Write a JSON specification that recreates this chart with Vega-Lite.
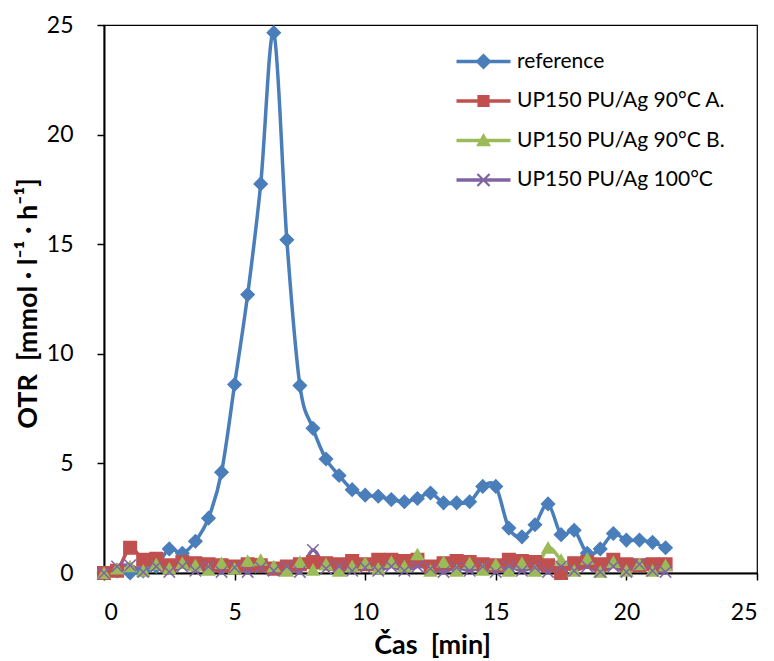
{
  "$schema": "https://vega.github.io/schema/vega-lite/v6.json",
  "autosize": "none",
  "width": 653,
  "height": 548,
  "padding": {"left": 104, "top": 25, "right": 17, "bottom": 88},
  "background": "white",
  "config": {
    "font": "Lato",
    "view": {"stroke": "#000", "strokeWidth": 1.2},
    "axis": {
      "grid": false,
      "domainColor": "#000",
      "domainWidth": 2,
      "tickColor": "#000",
      "tickWidth": 1.5,
      "tickSize": 7,
      "labelFont": "Lato",
      "labelFontSize": 23,
      "labelColor": "#000",
      "titleFont": "Lato",
      "titleFontSize": 27,
      "titleFontWeight": "bold",
      "titleColor": "#000"
    },
    "legend": {
      "orient": "none",
      "legendX": 366,
      "legendY": 23,
      "padding": 0,
      "rowPadding": 15.5,
      "symbolSize": 729,
      "symbolStrokeWidth": 0,
      "labelOffset": 20,
      "labelFont": "Lato",
      "labelFontSize": 21,
      "labelColor": "#000",
      "labelLimit": 400
    }
  },
  "data": {
    "values": [
      {"t": 0, "s": "reference", "v": 0},
      {"t": 0.5, "s": "reference", "v": 0.1},
      {"t": 1, "s": "reference", "v": 0},
      {"t": 1.5, "s": "reference", "v": 0.1},
      {"t": 2, "s": "reference", "v": 0.3},
      {"t": 2.5, "s": "reference", "v": 1.1},
      {"t": 3, "s": "reference", "v": 0.9},
      {"t": 3.5, "s": "reference", "v": 1.45},
      {"t": 4, "s": "reference", "v": 2.5},
      {"t": 4.5, "s": "reference", "v": 4.6},
      {"t": 5, "s": "reference", "v": 8.6},
      {"t": 5.5, "s": "reference", "v": 12.7},
      {"t": 6, "s": "reference", "v": 17.75},
      {"t": 6.5, "s": "reference", "v": 24.65},
      {"t": 7, "s": "reference", "v": 15.2},
      {"t": 7.5, "s": "reference", "v": 8.55},
      {"t": 8, "s": "reference", "v": 6.6},
      {"t": 8.5, "s": "reference", "v": 5.2},
      {"t": 9, "s": "reference", "v": 4.45},
      {"t": 9.5, "s": "reference", "v": 3.8},
      {"t": 10, "s": "reference", "v": 3.55},
      {"t": 10.5, "s": "reference", "v": 3.5},
      {"t": 11, "s": "reference", "v": 3.35},
      {"t": 11.5, "s": "reference", "v": 3.25},
      {"t": 12, "s": "reference", "v": 3.4},
      {"t": 12.5, "s": "reference", "v": 3.65},
      {"t": 13, "s": "reference", "v": 3.2},
      {"t": 13.5, "s": "reference", "v": 3.2},
      {"t": 14, "s": "reference", "v": 3.25},
      {"t": 14.5, "s": "reference", "v": 3.95},
      {"t": 15, "s": "reference", "v": 3.95},
      {"t": 15.5, "s": "reference", "v": 2.05},
      {"t": 16, "s": "reference", "v": 1.65},
      {"t": 16.5, "s": "reference", "v": 2.2},
      {"t": 17, "s": "reference", "v": 3.15},
      {"t": 17.5, "s": "reference", "v": 1.75},
      {"t": 18, "s": "reference", "v": 1.95},
      {"t": 18.5, "s": "reference", "v": 0.9},
      {"t": 19, "s": "reference", "v": 1.1},
      {"t": 19.5, "s": "reference", "v": 1.8},
      {"t": 20, "s": "reference", "v": 1.5},
      {"t": 20.5, "s": "reference", "v": 1.5},
      {"t": 21, "s": "reference", "v": 1.4},
      {"t": 21.5, "s": "reference", "v": 1.15},

      {"t": 0, "s": "UP150 PU/Ag 90°C A.", "v": 0},
      {"t": 0.5, "s": "UP150 PU/Ag 90°C A.", "v": 0.1},
      {"t": 1, "s": "UP150 PU/Ag 90°C A.", "v": 1.15},
      {"t": 1.5, "s": "UP150 PU/Ag 90°C A.", "v": 0.6},
      {"t": 2, "s": "UP150 PU/Ag 90°C A.", "v": 0.65},
      {"t": 2.5, "s": "UP150 PU/Ag 90°C A.", "v": 0.35},
      {"t": 3, "s": "UP150 PU/Ag 90°C A.", "v": 0.5},
      {"t": 3.5, "s": "UP150 PU/Ag 90°C A.", "v": 0.45},
      {"t": 4, "s": "UP150 PU/Ag 90°C A.", "v": 0.4},
      {"t": 4.5, "s": "UP150 PU/Ag 90°C A.", "v": 0.35},
      {"t": 5, "s": "UP150 PU/Ag 90°C A.", "v": 0.3},
      {"t": 5.5, "s": "UP150 PU/Ag 90°C A.", "v": 0.4},
      {"t": 6, "s": "UP150 PU/Ag 90°C A.", "v": 0.35},
      {"t": 6.5, "s": "UP150 PU/Ag 90°C A.", "v": 0.2},
      {"t": 7, "s": "UP150 PU/Ag 90°C A.", "v": 0.3},
      {"t": 7.5, "s": "UP150 PU/Ag 90°C A.", "v": 0.4},
      {"t": 8, "s": "UP150 PU/Ag 90°C A.", "v": 0.5},
      {"t": 8.5, "s": "UP150 PU/Ag 90°C A.", "v": 0.45},
      {"t": 9, "s": "UP150 PU/Ag 90°C A.", "v": 0.4},
      {"t": 9.5, "s": "UP150 PU/Ag 90°C A.", "v": 0.55},
      {"t": 10, "s": "UP150 PU/Ag 90°C A.", "v": 0.4},
      {"t": 10.5, "s": "UP150 PU/Ag 90°C A.", "v": 0.6},
      {"t": 11, "s": "UP150 PU/Ag 90°C A.", "v": 0.6},
      {"t": 11.5, "s": "UP150 PU/Ag 90°C A.", "v": 0.55},
      {"t": 12, "s": "UP150 PU/Ag 90°C A.", "v": 0.6},
      {"t": 12.5, "s": "UP150 PU/Ag 90°C A.", "v": 0.3},
      {"t": 13, "s": "UP150 PU/Ag 90°C A.", "v": 0.45},
      {"t": 13.5, "s": "UP150 PU/Ag 90°C A.", "v": 0.55},
      {"t": 14, "s": "UP150 PU/Ag 90°C A.", "v": 0.5},
      {"t": 14.5, "s": "UP150 PU/Ag 90°C A.", "v": 0.4},
      {"t": 15, "s": "UP150 PU/Ag 90°C A.", "v": 0.35},
      {"t": 15.5, "s": "UP150 PU/Ag 90°C A.", "v": 0.6},
      {"t": 16, "s": "UP150 PU/Ag 90°C A.", "v": 0.55},
      {"t": 16.5, "s": "UP150 PU/Ag 90°C A.", "v": 0.5},
      {"t": 17, "s": "UP150 PU/Ag 90°C A.", "v": 0.35},
      {"t": 17.5, "s": "UP150 PU/Ag 90°C A.", "v": 0},
      {"t": 18, "s": "UP150 PU/Ag 90°C A.", "v": 0.45},
      {"t": 18.5, "s": "UP150 PU/Ag 90°C A.", "v": 0.5},
      {"t": 19, "s": "UP150 PU/Ag 90°C A.", "v": 0.4},
      {"t": 19.5, "s": "UP150 PU/Ag 90°C A.", "v": 0.6},
      {"t": 20, "s": "UP150 PU/Ag 90°C A.", "v": 0.4},
      {"t": 20.5, "s": "UP150 PU/Ag 90°C A.", "v": 0.35},
      {"t": 21, "s": "UP150 PU/Ag 90°C A.", "v": 0.4},
      {"t": 21.5, "s": "UP150 PU/Ag 90°C A.", "v": 0.4},

      {"t": 0, "s": "UP150 PU/Ag 90°C B.", "v": 0},
      {"t": 0.5, "s": "UP150 PU/Ag 90°C B.", "v": 0.2},
      {"t": 1, "s": "UP150 PU/Ag 90°C B.", "v": 0.3},
      {"t": 1.5, "s": "UP150 PU/Ag 90°C B.", "v": 0.1},
      {"t": 2, "s": "UP150 PU/Ag 90°C B.", "v": 0.4},
      {"t": 2.5, "s": "UP150 PU/Ag 90°C B.", "v": 0.2},
      {"t": 3, "s": "UP150 PU/Ag 90°C B.", "v": 0.45},
      {"t": 3.5, "s": "UP150 PU/Ag 90°C B.", "v": 0.35},
      {"t": 4, "s": "UP150 PU/Ag 90°C B.", "v": 0.15},
      {"t": 4.5, "s": "UP150 PU/Ag 90°C B.", "v": 0.45},
      {"t": 5, "s": "UP150 PU/Ag 90°C B.", "v": 0.2},
      {"t": 5.5, "s": "UP150 PU/Ag 90°C B.", "v": 0.55},
      {"t": 6, "s": "UP150 PU/Ag 90°C B.", "v": 0.6},
      {"t": 6.5, "s": "UP150 PU/Ag 90°C B.", "v": 0.3},
      {"t": 7, "s": "UP150 PU/Ag 90°C B.", "v": 0.1},
      {"t": 7.5, "s": "UP150 PU/Ag 90°C B.", "v": 0.5},
      {"t": 8, "s": "UP150 PU/Ag 90°C B.", "v": 0.15},
      {"t": 8.5, "s": "UP150 PU/Ag 90°C B.", "v": 0.4},
      {"t": 9, "s": "UP150 PU/Ag 90°C B.", "v": 0.1},
      {"t": 9.5, "s": "UP150 PU/Ag 90°C B.", "v": 0.3},
      {"t": 10, "s": "UP150 PU/Ag 90°C B.", "v": 0.45},
      {"t": 10.5, "s": "UP150 PU/Ag 90°C B.", "v": 0.2},
      {"t": 11, "s": "UP150 PU/Ag 90°C B.", "v": 0.5},
      {"t": 11.5, "s": "UP150 PU/Ag 90°C B.", "v": 0.3},
      {"t": 12, "s": "UP150 PU/Ag 90°C B.", "v": 0.85},
      {"t": 12.5, "s": "UP150 PU/Ag 90°C B.", "v": 0.1},
      {"t": 13, "s": "UP150 PU/Ag 90°C B.", "v": 0.5},
      {"t": 13.5, "s": "UP150 PU/Ag 90°C B.", "v": 0.1},
      {"t": 14, "s": "UP150 PU/Ag 90°C B.", "v": 0.45},
      {"t": 14.5, "s": "UP150 PU/Ag 90°C B.", "v": 0.15},
      {"t": 15, "s": "UP150 PU/Ag 90°C B.", "v": 0.4},
      {"t": 15.5, "s": "UP150 PU/Ag 90°C B.", "v": 0.1},
      {"t": 16, "s": "UP150 PU/Ag 90°C B.", "v": 0.45},
      {"t": 16.5, "s": "UP150 PU/Ag 90°C B.", "v": 0.1},
      {"t": 17, "s": "UP150 PU/Ag 90°C B.", "v": 1.15},
      {"t": 17.5, "s": "UP150 PU/Ag 90°C B.", "v": 0.6},
      {"t": 18, "s": "UP150 PU/Ag 90°C B.", "v": 0.1},
      {"t": 18.5, "s": "UP150 PU/Ag 90°C B.", "v": 0.65},
      {"t": 19, "s": "UP150 PU/Ag 90°C B.", "v": 0.05},
      {"t": 19.5, "s": "UP150 PU/Ag 90°C B.", "v": 0.5},
      {"t": 20, "s": "UP150 PU/Ag 90°C B.", "v": 0.1},
      {"t": 20.5, "s": "UP150 PU/Ag 90°C B.", "v": 0.4},
      {"t": 21, "s": "UP150 PU/Ag 90°C B.", "v": 0.1},
      {"t": 21.5, "s": "UP150 PU/Ag 90°C B.", "v": 0.35},

      {"t": 0, "s": "UP150 PU/Ag 100°C", "v": 0},
      {"t": 0.5, "s": "UP150 PU/Ag 100°C", "v": 0.3},
      {"t": 1, "s": "UP150 PU/Ag 100°C", "v": 0.35},
      {"t": 1.5, "s": "UP150 PU/Ag 100°C", "v": 0.05},
      {"t": 2, "s": "UP150 PU/Ag 100°C", "v": 0.3},
      {"t": 2.5, "s": "UP150 PU/Ag 100°C", "v": 0.05},
      {"t": 3, "s": "UP150 PU/Ag 100°C", "v": 0.3},
      {"t": 3.5, "s": "UP150 PU/Ag 100°C", "v": 0.1},
      {"t": 4, "s": "UP150 PU/Ag 100°C", "v": 0.3},
      {"t": 4.5, "s": "UP150 PU/Ag 100°C", "v": 0.05},
      {"t": 5, "s": "UP150 PU/Ag 100°C", "v": 0.25},
      {"t": 5.5, "s": "UP150 PU/Ag 100°C", "v": 0.05},
      {"t": 6, "s": "UP150 PU/Ag 100°C", "v": 0.25},
      {"t": 6.5, "s": "UP150 PU/Ag 100°C", "v": 0.1},
      {"t": 7, "s": "UP150 PU/Ag 100°C", "v": 0.3},
      {"t": 7.5, "s": "UP150 PU/Ag 100°C", "v": 0.05},
      {"t": 8, "s": "UP150 PU/Ag 100°C", "v": 1.05},
      {"t": 8.5, "s": "UP150 PU/Ag 100°C", "v": 0.2},
      {"t": 9, "s": "UP150 PU/Ag 100°C", "v": 0.3},
      {"t": 9.5, "s": "UP150 PU/Ag 100°C", "v": 0.1},
      {"t": 10, "s": "UP150 PU/Ag 100°C", "v": 0.25},
      {"t": 10.5, "s": "UP150 PU/Ag 100°C", "v": 0.1},
      {"t": 11, "s": "UP150 PU/Ag 100°C", "v": 0.3},
      {"t": 11.5, "s": "UP150 PU/Ag 100°C", "v": 0.1},
      {"t": 12, "s": "UP150 PU/Ag 100°C", "v": 0.3},
      {"t": 12.5, "s": "UP150 PU/Ag 100°C", "v": 0.2},
      {"t": 13, "s": "UP150 PU/Ag 100°C", "v": 0.05},
      {"t": 13.5, "s": "UP150 PU/Ag 100°C", "v": 0.25},
      {"t": 14, "s": "UP150 PU/Ag 100°C", "v": 0.1},
      {"t": 14.5, "s": "UP150 PU/Ag 100°C", "v": 0.3},
      {"t": 15, "s": "UP150 PU/Ag 100°C", "v": 0.05},
      {"t": 15.5, "s": "UP150 PU/Ag 100°C", "v": 0.3},
      {"t": 16, "s": "UP150 PU/Ag 100°C", "v": 0.1},
      {"t": 16.5, "s": "UP150 PU/Ag 100°C", "v": 0.25},
      {"t": 17, "s": "UP150 PU/Ag 100°C", "v": 0.05},
      {"t": 17.5, "s": "UP150 PU/Ag 100°C", "v": 0.3},
      {"t": 18, "s": "UP150 PU/Ag 100°C", "v": 0.1},
      {"t": 18.5, "s": "UP150 PU/Ag 100°C", "v": 0.3},
      {"t": 19, "s": "UP150 PU/Ag 100°C", "v": 0.05},
      {"t": 19.5, "s": "UP150 PU/Ag 100°C", "v": 0.3},
      {"t": 20, "s": "UP150 PU/Ag 100°C", "v": 0.05},
      {"t": 20.5, "s": "UP150 PU/Ag 100°C", "v": 0.4},
      {"t": 21, "s": "UP150 PU/Ag 100°C", "v": 0.1},
      {"t": 21.5, "s": "UP150 PU/Ag 100°C", "v": 0.05}
    ]
  },
  "encoding": {
    "x": {
      "field": "t",
      "type": "quantitative",
      "scale": {"domain": [0, 25], "nice": false, "zero": false},
      "axis": {
        "values": [0, 5, 10, 15, 20, 25],
        "labelPadding": 21,
        "title": "Čas\u00a0 [min]",
        "titleX": 328,
        "titleY": 72,
        "titleAlign": "center",
        "titleBaseline": "middle"
      }
    },
    "y": {
      "field": "v",
      "type": "quantitative",
      "scale": {"domain": [0, 25], "nice": false},
      "axis": {
        "values": [0, 5, 10, 15, 20, 25],
        "labelPadding": 24,
        "title": "OTR\u00a0 [mmol · l⁻¹ · h⁻¹]",
        "titleX": -76,
        "titleY": 278,
        "titleAngle": -90,
        "titleAlign": "center",
        "titleBaseline": "middle"
      }
    }
  },
  "resolve": {
    "scale": {"color": "independent", "shape": "independent"},
    "legend": {"color": "independent", "shape": "independent"}
  },
  "layer": [
    {
      "mark": {"type": "line", "interpolate": "cardinal", "tension": 0, "strokeWidth": 3.5},
      "encoding": {
        "color": {
          "field": "s",
          "type": "nominal",
          "scale": {
            "domain": ["reference", "UP150 PU/Ag 90°C A.", "UP150 PU/Ag 90°C B.", "UP150 PU/Ag 100°C"],
            "range": ["#4A7EBB", "#C0504D", "#9BBB59", "#8064A2"]
          },
          "legend": null
        }
      }
    },
    {
      "mark": {"type": "point", "filled": true, "opacity": 1, "strokeWidth": 1.5},
      "encoding": {
        "color": {
          "field": "s",
          "type": "nominal",
          "scale": {
            "domain": ["reference", "UP150 PU/Ag 90°C A.", "UP150 PU/Ag 90°C B.", "UP150 PU/Ag 100°C"],
            "range": ["#4A7EBB", "#C0504D", "#9BBB59", "#8064A2"]
          },
          "legend": null
        },
        "shape": {
          "field": "s",
          "type": "nominal",
          "scale": {
            "domain": ["reference", "UP150 PU/Ag 90°C A.", "UP150 PU/Ag 90°C B.", "UP150 PU/Ag 100°C"],
            "range": ["diamond", "square", "triangle-up", "M-1,-1L1,1M1,-1L-1,1"]
          },
          "legend": null
        },
        "size": {
          "field": "s",
          "type": "nominal",
          "scale": {
            "domain": ["reference", "UP150 PU/Ag 90°C A.", "UP150 PU/Ag 90°C B.", "UP150 PU/Ag 100°C"],
            "range": [170, 130, 160, 130]
          },
          "legend": null
        },
        "stroke": {
          "field": "s",
          "type": "nominal",
          "scale": {
            "domain": ["reference", "UP150 PU/Ag 90°C A.", "UP150 PU/Ag 90°C B.", "UP150 PU/Ag 100°C"],
            "range": ["#4A7EBB", "#C0504D", "#9BBB59", "#8064A2"]
          },
          "legend": null
        }
      }
    },
    {
      "transform": [{"filter": "datum.t < -1"}],
      "mark": {"type": "point", "filled": true, "opacity": 1},
      "encoding": {
        "color": {
          "field": "s",
          "type": "nominal",
          "scale": {
            "domain": ["reference", "UP150 PU/Ag 90°C A.", "UP150 PU/Ag 90°C B.", "UP150 PU/Ag 100°C"],
            "range": ["#4A7EBB", "#C0504D", "#9BBB59", "#8064A2"]
          },
          "legend": {"title": null}
        },
        "shape": {
          "field": "s",
          "type": "nominal",
          "scale": {
            "domain": ["reference", "UP150 PU/Ag 90°C A.", "UP150 PU/Ag 90°C B.", "UP150 PU/Ag 100°C"],
            "range": [
              "M-2,-0.13L2,-0.13L2,0.13L-2,0.13ZM0,-0.6L0.6,0L0,0.6L-0.6,0Z",
              "M-2,-0.13L2,-0.13L2,0.13L-2,0.13ZM-0.45,-0.45L0.45,-0.45L0.45,0.45L-0.45,0.45Z",
              "M-2,-0.13L2,-0.13L2,0.13L-2,0.13ZM0,-0.55L0.55,0.42L-0.55,0.42Z",
              "M-2,-0.13L2,-0.13L2,0.13L-2,0.13ZM-0.393,-0.507L0.507,0.393L0.393,0.507L-0.507,-0.393ZM-0.507,0.393L0.393,-0.507L0.507,-0.393L-0.393,0.507Z"
            ]
          },
          "legend": {"title": null}
        }
      }
    }
  ]
}
